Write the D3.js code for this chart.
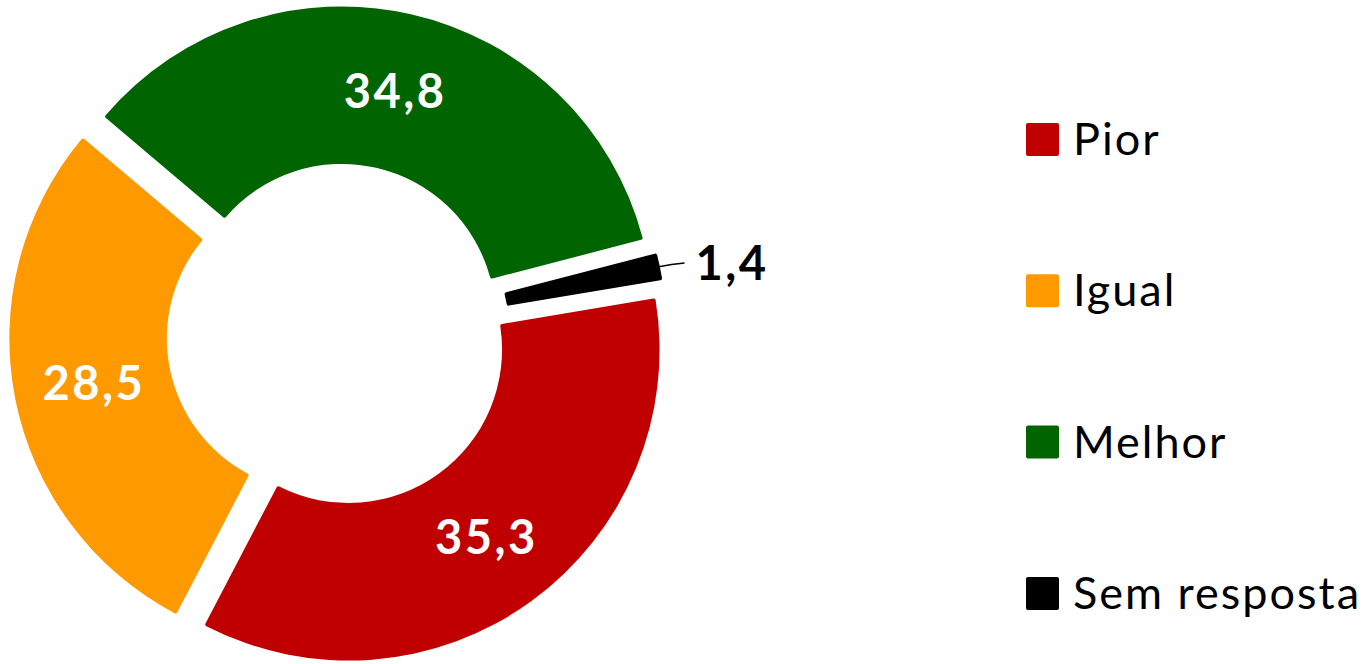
<!DOCTYPE html>
<html>
<head>
<meta charset="utf-8">
<script src="https://cdn.jsdelivr.net/npm/d3@7"></script>
<style>
  body { margin: 0; background: #fff; }
  text { font-family: Lato, "Open Sans", sans-serif; }
</style>
</head>
<body>
<div id="chart"></div>
<script>
// data
var categories = ['Pior', 'Igual', 'Melhor', 'Sem resposta'];
var values = [35.3, 28.5, 34.8, 1.4];
var labels = ['35,3', '28,5', '34,8', '1,4'];
var colors = ['#C00000', '#FF9900', '#006400', '#000000'];

var width = 1370,
    height = 664;

var cx = 338, cy = 335,
    outerRadius = 311,
    innerRadius = 153.5,
    explode = 18;

var svg = d3.select('#chart').append('svg')
  .attr('width', width)
  .attr('height', height);

var pie = d3.pie()
  .sort(null)
  .startAngle(80.5 * Math.PI / 180)
  .endAngle(80.5 * Math.PI / 180 + 2 * Math.PI);

var arc = d3.arc()
  .innerRadius(innerRadius)
  .outerRadius(outerRadius)
  .cornerRadius(2);

var arcs = pie(values);

var g = svg.append('g')
  .attr('transform', 'translate(' + cx + ',' + cy + ')');

var slices = g.selectAll('g.slice')
  .data(arcs)
  .enter().append('g')
  .attr('class', 'slice')
  .attr('transform', function(d) {
    var p = d3.pointRadial((d.startAngle + d.endAngle) / 2, explode);
    return 'translate(' + p[0] + ',' + p[1] + ')';
  });

slices.append('path')
  .attr('d', arc)
  .style('fill', function(d, i) { return colors[i]; });

// labels inside the ring (all but the tiny slice)
slices.filter(function(d, i) { return i < 3; })
  .append('text')
  .attr('transform', function(d) {
    var c = arc.centroid(d);
    return 'translate(' + (c[0] + 1.5) + ',' + c[1] + ')';
  })
  .attr('text-anchor', 'middle')
  .attr('dy', '0.36em')
  .style('font-weight', 700)
  .style('font-size', '47px')
  .style('letter-spacing', '2.5px')
  .style('fill', '#fff')
  .text(function(d, i) { return labels[i]; });

// small slice: label outside with leader line
var small = slices.filter(function(d, i) { return i === 3; });
small.each(function(d) {
  var a = (d.startAngle + d.endAngle) / 2;
  var p0 = d3.pointRadial(a, outerRadius - 1),
      p1 = d3.pointRadial(a, outerRadius + 12),
      p2 = [p1[0] + 13, p1[1] - 1];
  d3.select(this).append('path')
    .attr('d', 'M' + p0 + 'Q' + p1 + ' ' + p2)
    .style('fill', 'none')
    .style('stroke', '#000')
    .style('stroke-width', 1.5);
  d3.select(this).append('text')
    .attr('x', p2[0] + 11)
    .attr('y', p2[1])
    .attr('dy', '0.36em')
    .style('font-weight', 700)
    .style('font-size', '47px')
    .style('letter-spacing', '2.5px')
    .style('fill', '#000')
    .text(labels[3]);
});

// legend
var legend = svg.append('g')
  .attr('transform', 'translate(1026,123)');

var item = legend.selectAll('g.item')
  .data(categories)
  .enter().append('g')
  .attr('class', 'item')
  .attr('transform', function(d, i) { return 'translate(0,' + (i * 151.3) + ')'; });

item.append('rect')
  .attr('width', 33)
  .attr('height', 33)
  .attr('rx', 2)
  .style('fill', function(d, i) { return colors[i]; });

item.append('text')
  .attr('x', 47)
  .attr('y', 32)
  .style('font-size', '45px')
  .style('letter-spacing', '2px')
  .style('fill', '#000')
  .text(function(d) { return d; });
</script>
</body>
</html>
